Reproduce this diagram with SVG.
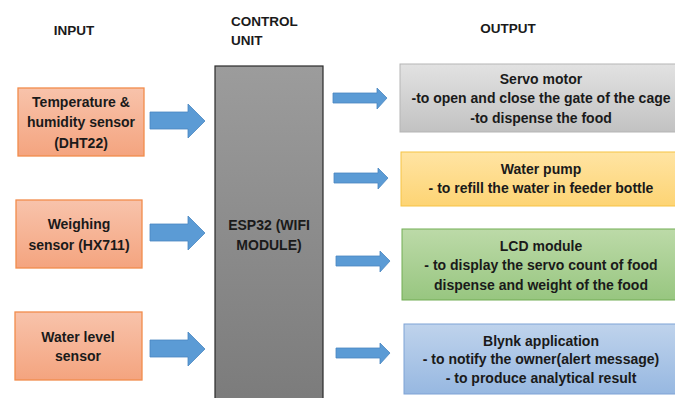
<svg xmlns="http://www.w3.org/2000/svg" width="675" height="398" viewBox="0 0 675 398">
<defs>
<linearGradient id="gOrange" x1="0" y1="0" x2="0" y2="1"><stop offset="0" stop-color="#f8c3ab"/><stop offset="1" stop-color="#f4a47f"/></linearGradient>
<linearGradient id="gCtrl" x1="0" y1="0" x2="0" y2="1"><stop offset="0" stop-color="#9c9c9c"/><stop offset="1" stop-color="#7b7b7b"/></linearGradient>
<linearGradient id="gGray" x1="0" y1="0" x2="0" y2="1"><stop offset="0" stop-color="#e2e2e2"/><stop offset="1" stop-color="#c2c2c2"/></linearGradient>
<linearGradient id="gYellow" x1="0" y1="0" x2="0" y2="1"><stop offset="0" stop-color="#ffe4a3"/><stop offset="1" stop-color="#fdd474"/></linearGradient>
<linearGradient id="gGreen" x1="0" y1="0" x2="0" y2="1"><stop offset="0" stop-color="#bcdaa8"/><stop offset="1" stop-color="#98c680"/></linearGradient>
<linearGradient id="gBlue" x1="0" y1="0" x2="0" y2="1"><stop offset="0" stop-color="#bfd3ec"/><stop offset="1" stop-color="#97b8e1"/></linearGradient>
</defs>
<style>
text{font-family:"Liberation Sans",Arial,sans-serif;font-weight:bold;font-size:14px;fill:#1a1a1a;text-anchor:middle;dominant-baseline:central}
.hd{font-size:13.5px}
.in{fill:url(#gOrange);stroke:#f28c4c;stroke-width:1.3}
.arr{fill:#5b9bd5;stroke:#4a86c0;stroke-width:0.8}
</style>
<g id="headers">
<text class="hd" x="74" y="30">INPUT</text>
<text class="hd" x="231" y="21" style="text-anchor:start">CONTROL</text>
<text class="hd" x="231" y="40" style="text-anchor:start">UNIT</text>
<text class="hd" x="508" y="28">OUTPUT</text>
</g>
<g id="control">
<rect x="215" y="66" width="108" height="340" fill="url(#gCtrl)" stroke="#2b2b2b" stroke-width="1.2"/>
<text x="269" y="225">ESP32 (WIFI</text>
<text x="269" y="245">MODULE)</text>
</g>
<g id="temp">
<rect class="in" x="18" y="88" width="126" height="68"/>
<text x="81" y="102">Temperature &amp;</text>
<text x="81" y="122">humidity sensor</text>
<text x="81" y="143">(DHT22)</text>
</g>
<g id="weigh">
<rect class="in" x="16" y="200" width="126" height="68"/>
<text x="79" y="224">Weighing</text>
<text x="79" y="245">sensor (HX711)</text>
</g>
<g id="level">
<rect class="in" x="15" y="312" width="127" height="68"/>
<text x="78" y="337">Water level</text>
<text x="78" y="356">sensor</text>
</g>
<g id="servo">
<rect x="400" y="64" width="280" height="68" fill="url(#gGray)" stroke="#b5b5b5" stroke-width="1"/>
<text x="541" y="79">Servo motor</text>
<text x="541" y="98">-to open and close the gate of the cage</text>
<text x="541" y="118">-to dispense the food</text>
</g>
<g id="pump">
<rect x="401" y="152" width="279" height="54" fill="url(#gYellow)" stroke="#f6c344" stroke-width="1"/>
<text x="541" y="169">Water pump</text>
<text x="541" y="188">- to refill the water in feeder bottle</text>
</g>
<g id="lcd">
<rect x="402" y="229" width="278" height="71" fill="url(#gGreen)" stroke="#72ad55" stroke-width="1"/>
<text x="541" y="246">LCD module</text>
<text x="541" y="265">- to display the servo count of food</text>
<text x="541" y="285">dispense and weight of the food</text>
</g>
<g id="blynk">
<rect x="404" y="324" width="276" height="70" fill="url(#gBlue)" stroke="#7fa3d5" stroke-width="1"/>
<text x="541" y="341">Blynk application</text>
<text x="541" y="359">- to notify the owner(alert message)</text>
<text x="541" y="378">- to produce analytical result</text>
</g>
<g id="connectors">
<path class="arr" d="M150,112 H188 V104 L205,121 L188,138 V129 H150 Z"/>
<path class="arr" d="M150,224 H188 V216 L205,233 L188,250 V241 H150 Z"/>
<path class="arr" d="M150,340 H188 V332 L205,349 L188,366 V357 H150 Z"/>
<path class="arr" d="M333,93 H377 V88 L387,98 L377,109 V103 H333 Z"/>
<path class="arr" d="M334,173 H378 V168 L388,178 L378,189 V183 H334 Z"/>
<path class="arr" d="M336,256 H380 V251 L390,261 L380,272 V266 H336 Z"/>
<path class="arr" d="M336,348 H380 V343 L390,353 L380,364 V358 H336 Z"/>
</g>
</svg>
